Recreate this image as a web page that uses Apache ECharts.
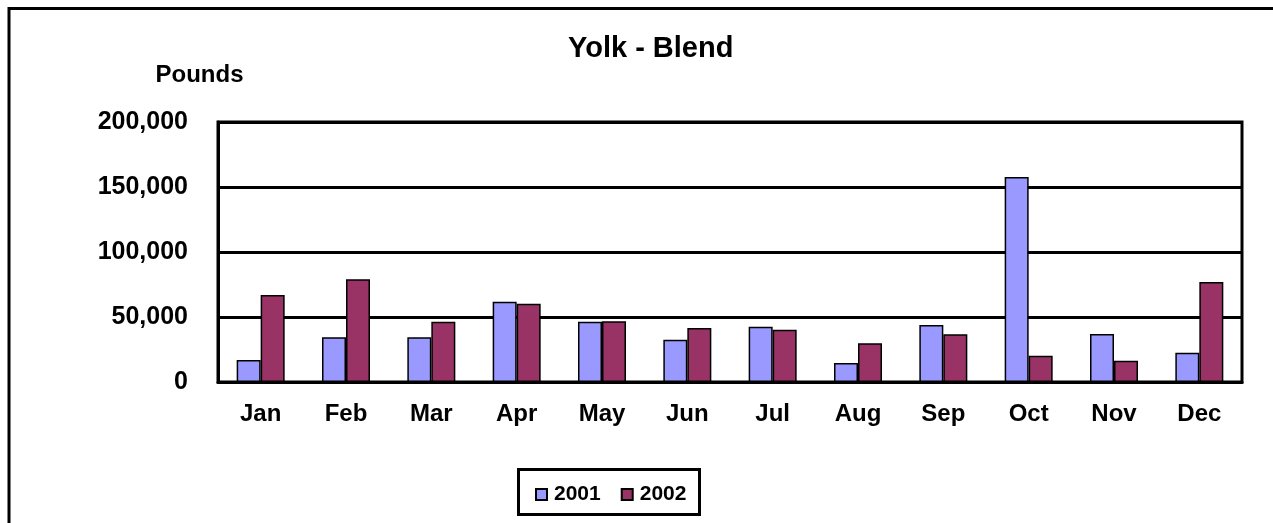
<!DOCTYPE html>
<html>
<head>
<meta charset="utf-8">
<script src="https://cdn.jsdelivr.net/npm/echarts@6/dist/echarts.min.js"></script>
<style>
html,body{margin:0;padding:0;background:#fff;}
#chart{width:1273px;height:523px;}
</style>
</head>
<body>
<div id="chart"></div>
<script>
const categories = ['Jan','Feb','Mar','Apr','May','Jun','Jul','Aug','Sep','Oct','Nov','Dec'];
const series2001 = [17000, 34500, 34400, 61800, 46400, 32500, 42500, 14600, 43800, 157700, 36900, 22500];
const series2002 = [67000, 79000, 46400, 60200, 46700, 41500, 40200, 29800, 36700, 20200, 16400, 76900];
const seriesNames = ['2001', '2002'];
const yTicks = { min: 0, max: 200000, interval: 50000 };

const FONT = '"Liberation Sans", Arial, sans-serif';
const chart = echarts.init(document.getElementById('chart'), null, { renderer: 'canvas' });

chart.setOption({
  backgroundColor: '#ffffff',
  animation: false,
  title: {
    text: 'Yolk - Blend',
    left: 563,
    top: 29,
    textStyle: { fontFamily: FONT, fontWeight: 'bold', fontSize: 29, color: '#000' }
  },
  grid: {
    left: 218, right: 31, top: 122, bottom: 141,
    show: true, borderColor: '#000', borderWidth: 3, backgroundColor: 'transparent'
  },
  legend: {
    data: seriesNames,
    left: 530,
    top: 479,
    itemWidth: 11,
    itemHeight: 11,
    itemGap: 20,
    icon: 'rect',
    textStyle: { fontFamily: FONT, fontWeight: 'bold', fontSize: 21, color: '#000', padding: [0, 0, 0, 2] }
  },
  xAxis: {
    type: 'category',
    data: categories,
    axisLine: { show: true, lineStyle: { color: '#000', width: 3 } },
    axisTick: { show: false },
    axisLabel: { fontFamily: FONT, fontWeight: 'bold', fontSize: 24, color: '#000', margin: 20 },
    splitLine: { show: false }
  },
  yAxis: {
    type: 'value',
    min: yTicks.min, max: yTicks.max, interval: yTicks.interval,
    name: 'Pounds',
    nameLocation: 'end',
    nameGap: 35,
    nameTextStyle: { fontFamily: FONT, fontWeight: 'bold', fontSize: 24, color: '#000', padding: [0, 37, 0, 0] },
    axisLine: { show: true, lineStyle: { color: '#000', width: 3 } },
    axisTick: { show: false },
    axisLabel: {
      fontFamily: FONT, fontWeight: 'bold', fontSize: 25, color: '#000', margin: 30,
      formatter: v => v.toLocaleString('en-US')
    },
    splitLine: { show: true, lineStyle: { color: '#000', width: 3 } }
  },
  series: [
    {
      name: seriesNames[0], type: 'bar', data: series2001,
      barWidth: 24, barGap: '0%',
      itemStyle: { color: '#9999FF', borderColor: '#000', borderWidth: 1.5 }
    },
    {
      name: seriesNames[1], type: 'bar', data: series2002,
      barWidth: 24, barGap: '0%',
      itemStyle: { color: '#993366', borderColor: '#000', borderWidth: 1.5 }
    }
  ],
  graphic: [
    {
      type: 'rect', silent: true, z: -1,
      shape: { x: 9, y: 8.5, width: 1300, height: 600 },
      style: { fill: 'none', stroke: '#000', lineWidth: 3 }
    },
    {
      type: 'rect', silent: true,
      shape: { x: 518.5, y: 469.5, width: 181, height: 45 },
      style: { fill: 'none', stroke: '#000', lineWidth: 3 }
    }
  ]
});
</script>
</body>
</html>
